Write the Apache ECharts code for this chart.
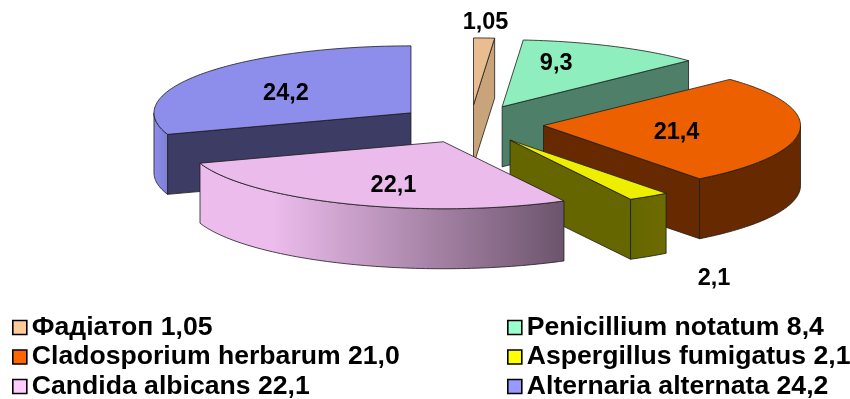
<!DOCTYPE html>
<html>
<head>
<meta charset="utf-8">
<style>html,body{margin:0;padding:0;background:#fff}#chart{width:850px;height:399px}</style>
<script src="https://cdn.jsdelivr.net/npm/echarts@6/dist/echarts.min.js"></script>
</head>
<body>
<div id="chart"></div>
<script>
// Slice values, clockwise from twelve o'clock
const sliceValues = [1.05, 9.3, 21.4, 2.1, 22.1, 24.2];
const legendNames = [
  'Фадіатоп 1,05',
  'Penicillium notatum 8,4',
  'Cladosporium herbarum 21,0',
  'Aspergillus fumigatus 2,1',
  'Candida albicans 22,1',
  'Alternaria alternata 24,2'
];

// Colours per slice
const legendColors = ['#ffcc99', '#99ffcc', '#ff6600', '#ffff00', '#ffccff', '#9999ff'];
const topColors = ['#e9bd90', '#8eeebd', '#ed6000', '#eeee00', '#ebbbeb', '#8d8eec'];
const wallColors = ['#c9a47a', '#4e8069', '#662900', '#666600', '#6e566e', '#3c3c64'];
const rimStops = [
  null,
  null,
  [[0, '#662900'], [1, '#662900']],
  [[0, '#666600'], [1, '#6c6c00']],
  [[0, '#ecbcec'], [0.2, '#ecbcec'], [1, '#6c546c']],
  [[0, '#8d8eec'], [1, '#7d7ed2']]
];

// Label offset from each slice's tip, in pixels
const labelOffsets = [[12, -82], [54, -43], [133, 7], [204, 138], [-50, 44], [-125, -19]];

// Projection of the tilted pie
const centerX = 470.5, centerY = 124, radiusX = 257, radiusY = 67;
const depth = 60, explode = 0.285;

const total = sliceValues.reduce((a, b) => a + b, 0);
const rad = v => (v / total) * 2 * Math.PI;
const starts = sliceValues.map((_, i) => sliceValues.slice(0, i).reduce((a, b) => a + b, 0));
const outline = { stroke: '#1c1c1c', lineWidth: 0.8 };

function renderSlice(idx) {
  return function (params, api) {
    const a0 = rad(api.value(0));
    const a1 = rad(api.value(0) + api.value(1));
    const mid = (a0 + a1) / 2;
    const ox = explode * Math.sin(mid), oy = explode * Math.cos(mid);
    const at = a => api.coord([ox + Math.sin(a), oy + Math.cos(a)]);
    const tip = api.coord([ox, oy]);
    const drop = p => [p[0], p[1] + depth];
    const arc = (from, to) => {
      const n = Math.max(2, Math.ceil((to - from) / 0.02));
      const pts = [];
      for (let i = 0; i <= n; i++) pts.push(at(from + (to - from) * i / n));
      return pts;
    };
    const poly = (points, fill) => ({
      type: 'polygon',
      shape: { points },
      style: Object.assign({ fill }, outline)
    });
    const children = [];
    const wall = a => {
      const e = at(a);
      children.push(poly([tip, e, drop(e), drop(tip)], wallColors[idx]));
    };
    // Radial walls face the viewer only on one side of the pie
    if (Math.sin(a0) < 0) wall(a0);
    if (Math.sin(a1) > 0) wall(a1);
    // Outer rim on the near half
    const r0 = Math.max(a0, Math.PI / 2), r1 = Math.min(a1, 1.5 * Math.PI);
    if (r1 > r0) {
      const top = arc(r0, r1);
      const fill = new echarts.graphic.LinearGradient(0, 0, 1, 0,
        rimStops[idx].map(s => ({ offset: s[0], color: s[1] })));
      children.push(poly(top.concat(top.slice().reverse().map(drop)), fill));
    }
    children.push(poly([tip].concat(arc(a0, a1)), topColors[idx]));
    children.push({
      type: 'text',
      x: tip[0] + labelOffsets[idx][0],
      y: tip[1] + labelOffsets[idx][1],
      style: {
        text: String(sliceValues[idx]).replace('.', ','),
        fill: '#000',
        font: 'bold 23.5px "Liberation Sans", Arial, sans-serif',
        textAlign: 'center',
        textVerticalAlign: 'middle'
      }
    });
    return { type: 'group', children };
  };
}

// Far slices are painted first so nearer ones overlap them
const paintOrder = sliceValues
  .map((v, i) => ({ i, c: Math.cos(rad(starts[i] + v / 2)) }))
  .sort((p, q) => q.c - p.c)
  .map(p => p.i);

const legendBase = {
  orient: 'vertical',
  icon: 'rect',
  itemWidth: 14,
  itemHeight: 14,
  itemGap: 2.5,
  padding: 0,
  height: 110,
  selectedMode: false,
  textStyle: { fontFamily: '"Liberation Sans", Arial, sans-serif', fontWeight: 'bold', fontSize: 26.6, color: '#000' }
};
const legendEntry = i => ({
  name: legendNames[i],
  itemStyle: { color: legendColors[i], borderColor: '#000', borderWidth: 1.6 }
});

const chart = echarts.init(document.getElementById('chart'), null, { renderer: 'canvas' });
chart.setOption({
  animation: false,
  backgroundColor: '#fff',
  grid: { left: centerX - radiusX, top: centerY - radiusY, width: 2 * radiusX, height: 2 * radiusY },
  xAxis: { type: 'value', min: -1, max: 1, show: false },
  yAxis: { type: 'value', min: -1, max: 1, show: false },
  legend: [
    Object.assign({}, legendBase, { left: 12, top: 314, data: [0, 2, 4].map(legendEntry) }),
    Object.assign({}, legendBase, { left: 507, top: 314, data: [1, 3, 5].map(legendEntry) })
  ],
  series: paintOrder.map(i => ({
    type: 'custom',
    name: legendNames[i],
    coordinateSystem: 'cartesian2d',
    itemStyle: { color: legendColors[i] },
    silent: true,
    renderItem: renderSlice(i),
    encode: { x: 0, y: 1 },
    data: [[starts[i], sliceValues[i]]]
  }))
});
</script>
</body>
</html>
